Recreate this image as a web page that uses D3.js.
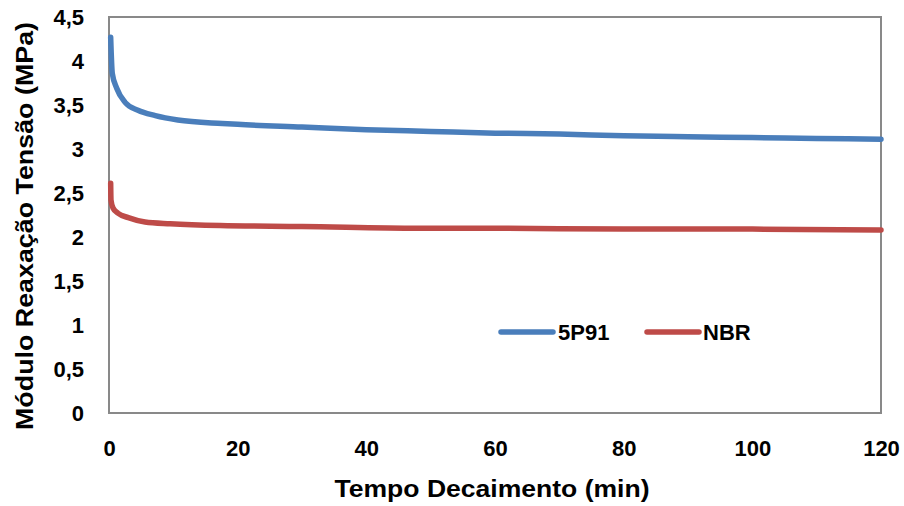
<!DOCTYPE html>
<html>
<head>
<meta charset="utf-8">
<script src="https://cdn.jsdelivr.net/npm/d3@7"></script>
<style>
    body { margin: 0; background: #fff; }
    text { font-family: "Liberation Sans", Arial, sans-serif; font-weight: bold; }
</style>
</head>
<body>
<script>
// Relaxation modulus vs decay time
var timeBlue = [0.26, 0.51, 1.2, 2.5, 4.5, 7.2, 10.7, 17.6, 20, 30, 40, 50,
    60, 70, 80, 90, 100, 110, 120];
var valBlue = [4.27, 3.86, 3.69, 3.53, 3.44, 3.38, 3.33, 3.29, 3.28, 3.25,
    3.22, 3.20, 3.18, 3.17, 3.15, 3.14, 3.13, 3.12, 3.11];
var timeRed = [0.26, 0.31, 0.62, 1.4, 3.0, 5.6, 9.5, 17.3, 30, 48, 60, 80,
    100, 120];
var valRed = [2.61, 2.42, 2.33, 2.27, 2.22, 2.17, 2.15, 2.13, 2.12, 2.10,
    2.10, 2.09, 2.09, 2.08];
var seriesNames = ["5P91", "NBR"];
var xTicks = [0, 20, 40, 60, 80, 100, 120];
var yTicks = [0, 0.5, 1, 1.5, 2, 2.5, 3, 3.5, 4, 4.5];

var colors = ["#4a7ebb", "#be4b48"];

var W = 904, H = 506;
var margin = {top: 17, right: 23, bottom: 93, left: 109},
    width = W - margin.left - margin.right,
    height = H - margin.top - margin.bottom;

var svg = d3.select("body").append("svg")
    .attr("width", W)
    .attr("height", H);

var g = svg.append("g")
    .attr("transform", "translate(" + margin.left + "," + margin.top + ")");

var x = d3.scaleLinear().domain([0, 120]).range([0, width]);
var y = d3.scaleLinear().domain([0, 4.5]).range([height, 0]);

// axes without tick marks, comma decimal
var fmt = function (d) { return String(d).replace(".", ","); };

var xAxis = g.append("g")
    .attr("transform", "translate(0," + height + ")")
    .call(d3.axisBottom(x).tickValues(xTicks).tickSize(0).tickPadding(26)
        .tickFormat(fmt));
var yAxis = g.append("g")
    .call(d3.axisLeft(y).tickValues(yTicks).tickSize(0).tickPadding(25)
        .tickFormat(fmt));

[xAxis, yAxis].forEach(function (a) {
    a.select(".domain").remove();
    a.selectAll("text")
        .attr("font-family", "Liberation Sans, Arial, sans-serif")
        .attr("font-weight", "bold")
        .attr("font-size", "22px")
        .attr("fill", "#000");
});
xAxis.selectAll("text").attr("dy", "0.36em").attr("y", 35);

// plot border
g.append("rect")
    .attr("width", width)
    .attr("height", height)
    .attr("fill", "none")
    .attr("stroke", "#898989")
    .attr("stroke-width", 2);

var line = d3.line()
    .x(function (d) { return x(d[0]); })
    .y(function (d) { return y(d[1]); })
    .curve(d3.curveMonotoneX);

var series = [d3.zip(timeBlue, valBlue), d3.zip(timeRed, valRed)];

g.selectAll("path.series")
    .data(series)
    .enter()
    .append("path")
    .attr("class", "series")
    .attr("d", line)
    .attr("fill", "none")
    .attr("stroke", function (d, i) { return colors[i]; })
    .attr("stroke-width", 5.5)
    .attr("stroke-linecap", "round");

// legend
var legend = svg.selectAll("g.legend")
    .data(seriesNames)
    .enter()
    .append("g")
    .attr("class", "legend")
    .attr("transform", function (d, i) {
        return "translate(" + (501 + i * 146) + ",332)";
    });
legend.append("line")
    .attr("x1", 0).attr("x2", 52)
    .attr("stroke", function (d, i) { return colors[i]; })
    .attr("stroke-width", 5.5)
    .attr("stroke-linecap", "round");
legend.append("text")
    .attr("x", function (d, i) { return i ? 56 : 57; })
    .attr("y", 8)
    .attr("font-size", "22px")
    .text(function (d) { return d; });

// axis titles
svg.append("text")
    .attr("text-anchor", "middle")
    .attr("x", 492)
    .attr("y", 497)
    .attr("font-size", "24px")
    .attr("textLength", 315)
    .attr("lengthAdjust", "spacingAndGlyphs")
    .text("Tempo Decaimento (min)");

svg.append("text")
    .attr("text-anchor", "middle")
    .attr("transform", "translate(33,226) rotate(-90)")
    .attr("font-size", "23px")
    .attr("textLength", 408)
    .attr("lengthAdjust", "spacingAndGlyphs")
    .text("Módulo Reaxação Tensão (MPa)");
</script>
</body>
</html>
